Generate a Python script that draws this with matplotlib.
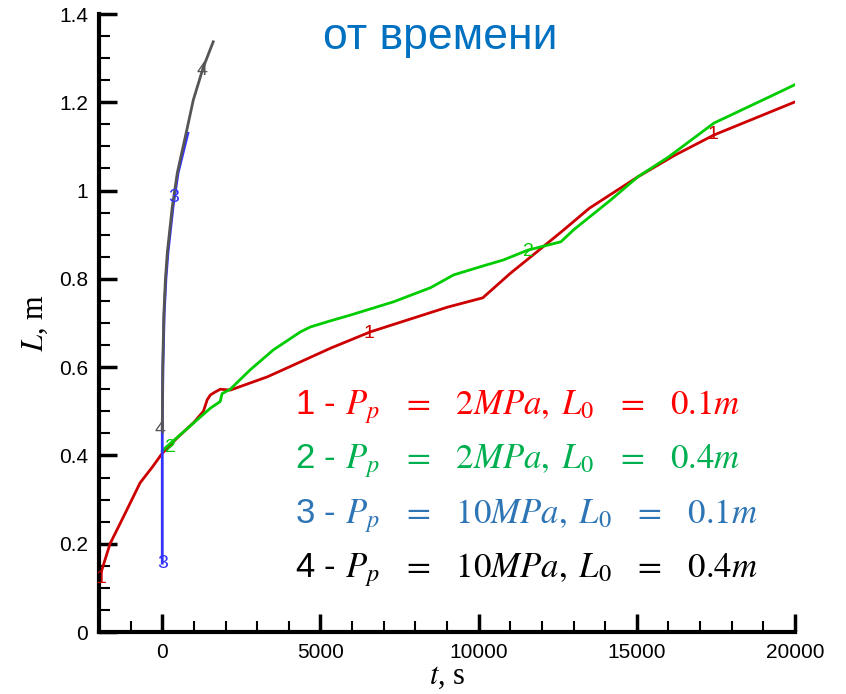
import matplotlib
matplotlib.use("Agg")
import matplotlib.pyplot as plt
from matplotlib.ticker import MultipleLocator

plt.rcParams['mathtext.fontset'] = 'stix'

# curve 1: Pp = 2 MPa, L0 = 0.1 m
t1 = [-2000, -1650, -1234, -700, -300, 0, 475, 1000, 1300, 1420, 1520, 1680, 1835, 2150,
      3320, 4370, 5320, 6580, 9020, 10130, 11010, 11650, 12690, 13500, 15030, 16200, 17440, 19970]
L1 = [0.12, 0.2, 0.26, 0.338, 0.375, 0.405, 0.44, 0.475, 0.50, 0.526, 0.537, 0.544, 0.55, 0.548,
      0.578, 0.612, 0.643, 0.68, 0.736, 0.757, 0.813, 0.85, 0.911, 0.96, 1.031, 1.08, 1.126, 1.2]

# curve 2: Pp = 2 MPa, L0 = 0.4 m
t2 = [0, 95, 1520, 1830, 1890, 2150, 2780, 3510, 4370, 4680, 5320, 5950, 7310, 8480, 9210,
      10220, 10790, 11550, 12600, 13000, 14180, 15030, 16000, 17440, 19330, 20000]
L2 = [0.41, 0.417, 0.507, 0.522, 0.54, 0.55, 0.594, 0.639, 0.68, 0.691, 0.705, 0.718, 0.748, 0.78, 0.809,
      0.831, 0.843, 0.865, 0.884, 0.911, 0.979, 1.031, 1.076, 1.153, 1.217, 1.24]

# curve 3: Pp = 10 MPa, L0 = 0.1 m
t3 = [0, 0, 20, 60, 115, 180, 340, 500, 810]
L3 = [0.156, 0.458, 0.6, 0.72, 0.80, 0.86, 0.963, 1.04, 1.13]

# curve 4: Pp = 10 MPa, L0 = 0.4 m
t4 = [0, 15, 50, 100, 160, 316, 475, 790, 980, 1300, 1610]
L4 = [0.458, 0.6, 0.72, 0.80, 0.86, 0.963, 1.04, 1.142, 1.205, 1.28, 1.337]

# number labels on the curves (t, L, text)
lab1 = [(-1930, 0.122, '1'), (6520, 0.677, '1'), (17400, 1.126, '1')]
lab2 = [(250, 0.417, '2'), (11580, 0.863, '2')]
lab3 = [(0, 0.156, '3'), (350, 0.985, '3')]
lab4 = [(-60, 0.458, '4'), (1270, 1.273, '4')]

eq = "\\;\\;\\;=\\;\\;\\;"
legend_lines = ["1 - $P_p" + eq + "2MPa,\\;L_0" + eq + "0.1m$",
                "2 - $P_p" + eq + "2MPa,\\;L_0" + eq + "0.4m$",
                "3 - $P_p" + eq + "10MPa,\\;L_0" + eq + "0.1m$",
                "4 - $P_p" + eq + "10MPa,\\;L_0" + eq + "0.4m$"]
legend_colors = ['#FF0000', '#00B050', '#2E75B6', '#000000']

c1, c2, c3, c4 = '#CC0000', '#00CC00', '#3333FF', '#555555'

fig = plt.figure(figsize=(8.46, 6.94), dpi=100)
ax = fig.add_axes([99/846, 1-632/694, 696/846, 618/694])

ax.plot(t1, L1, color=c1, lw=2)
ax.plot(t2, L2, color=c2, lw=2)
ax.plot(t3, L3, color=c3, lw=2)
ax.plot(t4, L4, color=c4, lw=2)

for labs, c in [(lab1, c1), (lab2, c2), (lab3, c3), (lab4, c4)]:
    for x, y, s in labs:
        ax.text(x, y, s, color=c, fontsize=14, ha='center', va='center',
                family='Liberation Sans')

ax.set_xlim(-2000, 20000)
ax.set_ylim(0, 1.4)
ax.xaxis.set_minor_locator(MultipleLocator(1000))
ax.yaxis.set_minor_locator(MultipleLocator(0.05))
ax.set_yticks([0, 0.2, 0.4, 0.6, 0.8, 1.0, 1.2, 1.4])
ax.set_yticklabels(['0', '0.2', '0.4', '0.6', '0.8', '1', '1.2', '1.4'])
ax.set_xticks([0, 5000, 10000, 15000, 20000])
ax.set_xticklabels(['0', '5000', '10000', '15000', '20000'])

for s in ['top', 'right']:
    ax.spines[s].set_visible(False)
for s in ['left', 'bottom']:
    ax.spines[s].set_linewidth(3)
ax.tick_params(which='major', direction='in', length=13, width=2.5, labelsize=15, pad=8)
ax.tick_params(which='minor', direction='in', length=8, width=1.5)
for lb in ax.get_xticklabels() + ax.get_yticklabels():
    lb.set_family('Liberation Sans')

ax.set_xlabel('$t$, s', fontsize=22, family='Liberation Serif', labelpad=0)
ax.set_ylabel('$L$, m', fontsize=22, family='Liberation Serif', labelpad=6)

fig.text(440/846, 1-38/694, 'от времени', color='#0070C0', fontsize=32,
         family='Liberation Sans', ha='center', va='center')

for i, (s, c) in enumerate(zip(legend_lines, legend_colors)):
    fig.text(295/846, 1-(407 + 54.5*i)/694, s, color=c, fontsize=25,
             family='Liberation Sans', ha='left', va='center')

fig.savefig('out.png', dpi=100)
